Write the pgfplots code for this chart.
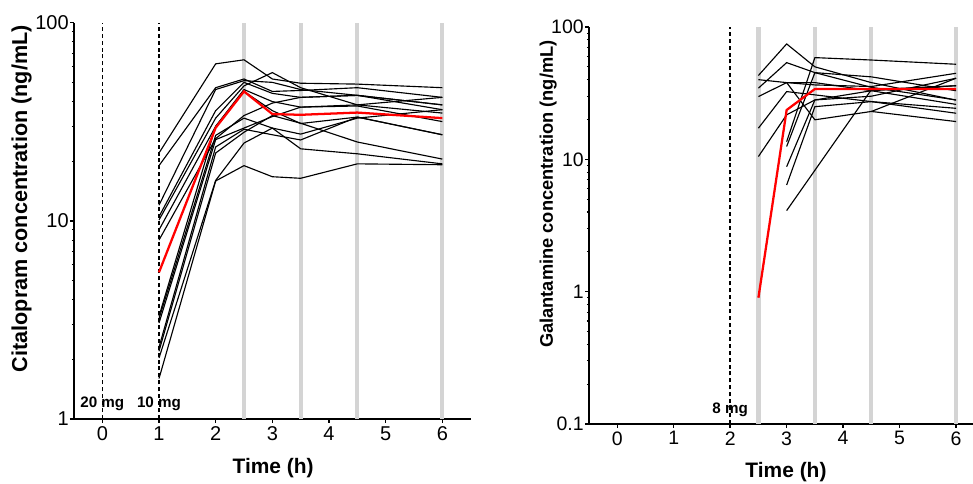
\documentclass[border=0pt]{standalone}
\usepackage{pgfplots}
\pgfplotsset{compat=1.18}
\usepackage{fontspec}
\setmainfont{Liberation Sans}
\definecolor{greybar}{RGB}{212,212,212}
\definecolor{myred}{RGB}{255,0,0}
\begin{document}
\begin{tikzpicture}
\path[use as bounding box] (0,0) rectangle (729.75pt,363pt);
% ---------------- Left: Citalopram ----------------
\begin{axis}[at={(55.5pt,48.75pt)}, anchor=south west,
  scale only axis, width=297.5pt, height=297.2pt,
  ymode=log,
  axis x line*=bottom, axis y line*=left,
  axis line style={line width=1.5pt},
  major tick style={line width=1.1pt, black},
  minor tick style={line width=0.8pt, black},
  major tick length=3pt, minor tick length=1.6pt,
  tick align=outside,
  xtick={0,1,2,3,4,5,6}, xticklabels={0,1,2,3,4,5,6},
  yminorticks=true,
  ticklabel style={font=\fontsize{15}{16}\selectfont},
  yticklabel style={inner xsep=0.8pt},
  xticklabel style={inner ysep=2.5pt},
  xlabel style={font=\fontsize{15.7}{17}\selectfont\bfseries,
    at={(axis description cs:0.502,-0.125)}, anchor=center},
  ylabel style={font=\fontsize{16.2}{17}\selectfont\bfseries,
    at={(axis description cs:-0.132,0.556)}, anchor=center},
  xlabel={Time (h)},
  xmin=-0.5, xmax=6.5, ymin=1, ymax=100,
  ytick={1,10,100}, yticklabels={1,10,100},
  ylabel={Citalopram concentration (ng/mL)}]
\addplot[greybar, line width=3.2pt] coordinates {(2.5,1) (2.5,100)};
\addplot[greybar, line width=3.2pt] coordinates {(3.5,1) (3.5,100)};
\addplot[greybar, line width=3.2pt] coordinates {(4.5,1) (4.5,100)};
\addplot[greybar, line width=3.2pt] coordinates {(6,1) (6,100)};
\addplot[black, line width=1.2pt, dash pattern=on 3pt off 2.2pt] coordinates {(0,1) (0,100)};
\addplot[black, line width=1.2pt, dash pattern=on 3pt off 2.2pt] coordinates {(1,1) (1,100)};
\addplot[black, line width=0.85pt] coordinates {(1,22) (2,62) (2.5,65) (3,52) (3.5,49.5) (4.5,49) (6,47)};
\addplot[black, line width=0.85pt] coordinates {(1,19) (2,47) (2.5,52) (3,45) (3.5,45.5) (4.5,47) (6,42)};
\addplot[black, line width=0.85pt] coordinates {(1,12) (2,46) (2.5,51) (3,50) (3.5,46) (4.5,43) (6,38.5)};
\addplot[black, line width=0.85pt] coordinates {(1,10.5) (2,36) (2.5,50) (3,44) (3.5,42) (4.5,43) (6,36.4)};
\addplot[black, line width=0.85pt] coordinates {(1,10.1) (2,33) (2.5,48) (3,56) (3.5,47) (4.5,38.5) (6,35)};
\addplot[black, line width=0.85pt] coordinates {(1,9) (2,30) (2.5,46) (3,40) (3.5,37.5) (4.5,38.5) (6,42)};
\addplot[black, line width=0.85pt] coordinates {(1,8) (2,26) (2.5,34) (3,39.3) (3.5,42) (4.5,43) (6,38.5)};
\addplot[black, line width=0.85pt] coordinates {(1,3.3) (2,30) (2.5,45) (3,36) (3.5,31) (4.5,33.4) (6,27.2)};
\addplot[black, line width=0.85pt] coordinates {(1,3.2) (2,27) (2.5,33) (3,29.4) (3.5,27.4) (4.5,33) (6,36.4)};
\addplot[black, line width=0.85pt] coordinates {(1,3.05) (2,25.7) (2.5,29.4) (3,33.6) (3.5,37.5) (4.5,38) (6,31.7)};
\addplot[black, line width=0.85pt] coordinates {(1,2.3) (2,23.6) (2.5,29) (3,27.2) (3.5,25.6) (4.5,33.4) (6,27.2)};
\addplot[black, line width=0.85pt] coordinates {(1,2.2) (2,22) (2.5,28) (3,34) (3.5,31.1) (4.5,25) (6,20.5)};
\addplot[black, line width=0.85pt] coordinates {(1,2.03) (2,16) (2.5,24.7) (3,29.4) (3.5,23.1) (4.5,21.8) (6,19.4)};
\addplot[black, line width=0.85pt] coordinates {(1,1.6) (2,15.9) (2.5,19) (3,16.7) (3.5,16.4) (4.5,19.4) (6,19.2)};
\addplot[myred, line width=1.7pt] coordinates {(1,5.5) (2,29.5) (2.5,45) (3,34.6) (3.5,34.3) (4.5,35.2) (6,33)};
\node[font=\fontsize{11.4}{12}\selectfont\bfseries] at (axis cs:0,1.19) {20 mg};
\node[font=\fontsize{11.4}{12}\selectfont\bfseries] at (axis cs:1,1.19) {10 mg};
\end{axis}
% ---------------- Right: Galantamine ----------------
\begin{axis}[at={(441.75pt,45pt)}, anchor=south west,
  scale only axis, width=288pt, height=297.75pt,
  ymode=log,
  axis x line*=bottom, axis y line*=left,
  axis line style={line width=1.5pt},
  major tick style={line width=1.1pt, black},
  minor tick style={line width=0.8pt, black},
  major tick length=3pt, minor tick length=1.6pt,
  tick align=outside,
  xtick={0,1,2,3,4,5,6}, xticklabels={0,1,2,3,4,5,6},
  yminorticks=true,
  ticklabel style={font=\fontsize{14.6}{16}\selectfont},
  yticklabel style={inner xsep=0.8pt},
  xticklabel style={inner ysep=2.5pt},
  xlabel style={font=\fontsize{15.7}{17}\selectfont\bfseries,
    at={(axis description cs:0.513,-0.121)}, anchor=center},
  ylabel style={font=\fontsize{13.7}{15}\selectfont\bfseries,
    at={(axis description cs:-0.106,0.579)}, anchor=center},
  xlabel={Time (h)},
  xmin=-0.5, xmax=6.3, ymin=0.1, ymax=100,
  ytick={0.1,1,10,100}, yticklabels={0.1,1,10,100},
  ylabel={Galantamine concentration (ng/mL)}]
\addplot[greybar, line width=3.2pt] coordinates {(2.5,0.1) (2.5,100)};
\addplot[greybar, line width=3.2pt] coordinates {(3.5,0.1) (3.5,100)};
\addplot[greybar, line width=3.2pt] coordinates {(4.5,0.1) (4.5,100)};
\addplot[greybar, line width=3.2pt] coordinates {(6,0.1) (6,100)};
\addplot[black, line width=1.2pt, dash pattern=on 3pt off 2.2pt] coordinates {(2,0.1) (2,100)};
\addplot[black, line width=0.85pt] coordinates {(2.5,43) (3,74.5) (3.5,50) (4.5,38) (6,28)};
\addplot[black, line width=0.85pt] coordinates {(2.5,34.5) (3,53.8) (3.5,45.2) (4.5,42) (6,33)};
\addplot[black, line width=0.85pt] coordinates {(2.5,29.8) (3,38) (3.5,36.5) (4.5,35.5) (6,44.7)};
\addplot[black, line width=0.85pt] coordinates {(2.5,17.2) (3,32.5) (3.5,30.7) (4.5,27.3) (6,24.3)};
\addplot[black, line width=0.85pt] coordinates {(2.5,10.5) (3,21.7) (3.5,28.1) (4.5,30) (6,41)};
\addplot[black, line width=0.85pt] coordinates {(3,13.6) (3.5,58.7) (4.5,56.3) (6,52.3)};
\addplot[black, line width=0.85pt] coordinates {(3,12.5) (3.5,45.2) (4.5,35) (6,28.1)};
\addplot[black, line width=0.85pt] coordinates {(3,8.8) (3.5,28.1) (4.5,33) (6,36)};
\addplot[black, line width=0.85pt] coordinates {(3,6.4) (3.5,25) (4.5,27.3) (6,22.3)};
\addplot[black, line width=0.85pt] coordinates {(3,4.1) (4.5,33.6) (6,36)};
\addplot[black, line width=0.85pt] coordinates {(3,38) (3.5,19.9) (4.5,23) (6,19.3)};
\addplot[black, line width=0.85pt] coordinates {(2.5,40) (3,38) (3.5,38) (4.5,33) (6,26)};
\addplot[black, line width=0.85pt] coordinates {(4.5,23) (6,41)};
\addplot[myred, line width=1.7pt] coordinates {(2.5,0.9) (3,23.6) (3.5,34) (4.5,34) (6,34)};
\node[font=\fontsize{11.4}{12}\selectfont\bfseries] at (axis cs:2,0.128) {8 mg};
\end{axis}
\end{tikzpicture}
\end{document}
